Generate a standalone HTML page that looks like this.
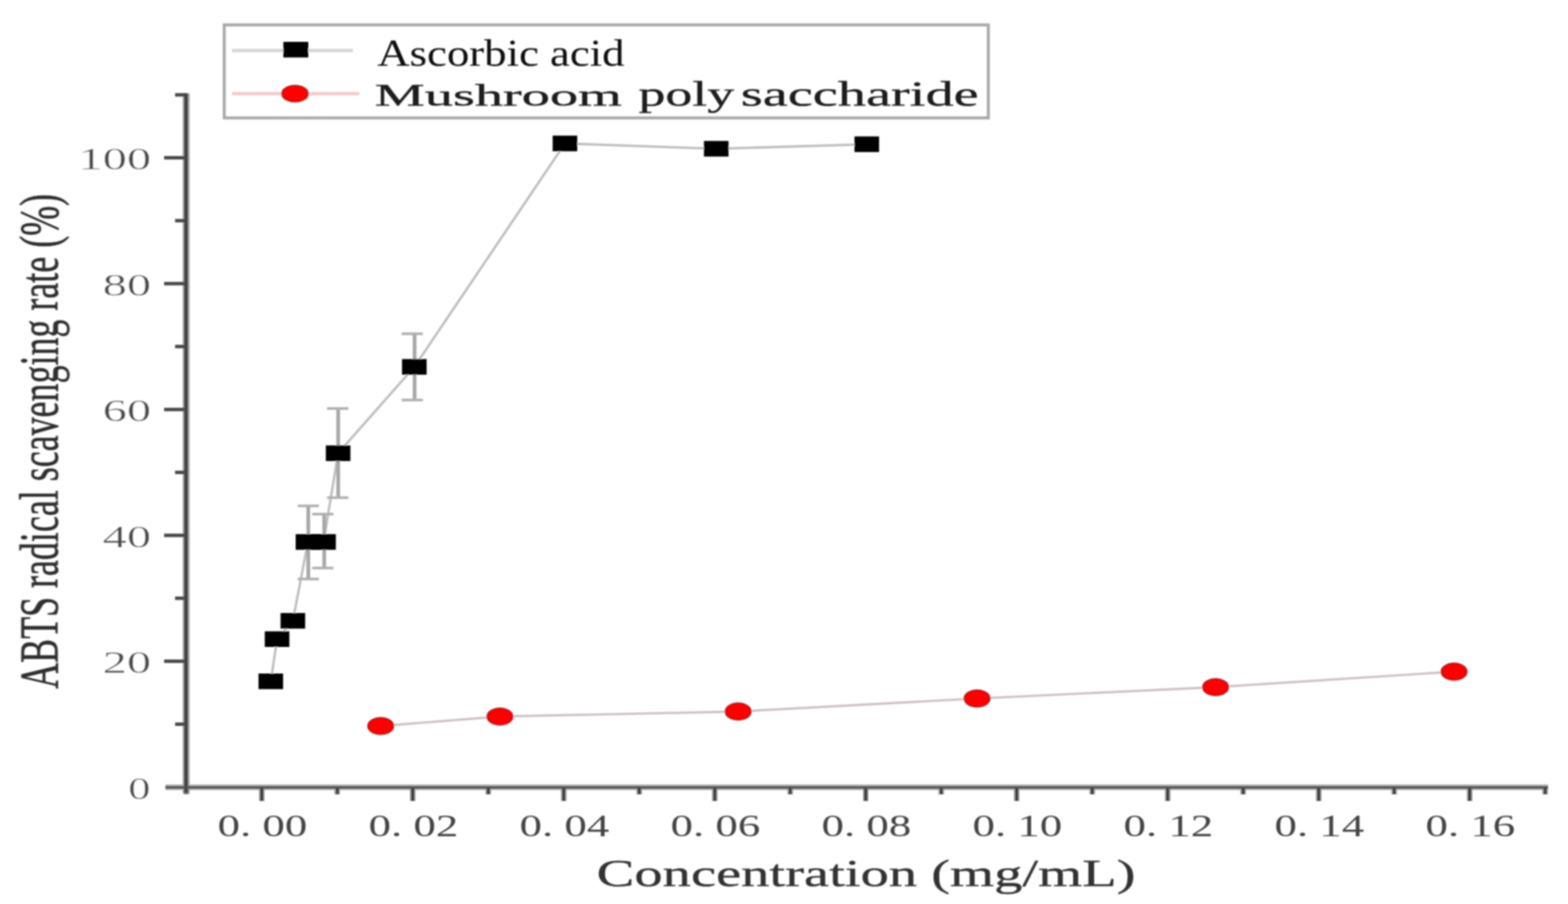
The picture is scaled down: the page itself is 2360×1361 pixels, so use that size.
<!DOCTYPE html>
<html><head><meta charset="utf-8"><title>ABTS radical scavenging rate</title>
<style>
html,body{margin:0;padding:0;background:#fff;}
svg{display:block;}
text{font-family:"Liberation Serif",serif;fill:#2e2e2e;}
.thin{stroke:#fff;stroke-width:0.5px;}
.med{stroke:#3a3a3a;stroke-width:0.45px;fill:#333 !important;}
.lab{fill:#444 !important;}
.ylab{fill:#4a4a4a !important;stroke:#fff;stroke-width:0.45px;}
.med3{stroke:#2a2a2a;stroke-width:0.5px;}
</style></head>
<body>
<svg width="2360" height="1361" viewBox="0 0 2360 1361">
<defs><filter id="bl" x="-2%" y="-2%" width="104%" height="104%"><feGaussianBlur stdDeviation="1.25"/></filter></defs>
<rect width="2360" height="1361" fill="#fff"/>
<g filter="url(#bl)">
<rect x="274.9" y="140.5" width="10.6" height="1053.5" fill="#a8a8a8"/>
<rect x="249" y="1181.2" width="2081" height="8.2" fill="#a6a6a6"/>
<rect x="276.4" y="1187" width="8" height="9" fill="#8c8c8c"/>
<rect x="390.0" y="1187" width="8" height="19" fill="#8c8c8c"/>
<rect x="503.6" y="1187" width="8" height="9" fill="#8c8c8c"/>
<rect x="617.2" y="1187" width="8" height="19" fill="#8c8c8c"/>
<rect x="730.9" y="1187" width="8" height="9" fill="#8c8c8c"/>
<rect x="844.5" y="1187" width="8" height="19" fill="#8c8c8c"/>
<rect x="958.1" y="1187" width="8" height="9" fill="#8c8c8c"/>
<rect x="1071.8" y="1187" width="8" height="19" fill="#8c8c8c"/>
<rect x="1185.4" y="1187" width="8" height="9" fill="#8c8c8c"/>
<rect x="1299.0" y="1187" width="8" height="19" fill="#8c8c8c"/>
<rect x="1412.6" y="1187" width="8" height="9" fill="#8c8c8c"/>
<rect x="1526.2" y="1187" width="8" height="19" fill="#8c8c8c"/>
<rect x="1639.9" y="1187" width="8" height="9" fill="#8c8c8c"/>
<rect x="1753.5" y="1187" width="8" height="19" fill="#8c8c8c"/>
<rect x="1867.1" y="1187" width="8" height="9" fill="#8c8c8c"/>
<rect x="1980.8" y="1187" width="8" height="19" fill="#8c8c8c"/>
<rect x="2094.4" y="1187" width="8" height="9" fill="#8c8c8c"/>
<rect x="2208.0" y="1187" width="8" height="19" fill="#8c8c8c"/>
<rect x="2321.6" y="1187" width="8" height="9" fill="#8c8c8c"/>
<rect x="277" y="140.5" width="6" height="1053.5" fill="#454545"/>
<rect x="249" y="1183.8" width="2081" height="3.4" fill="#4e4e4e"/>
<rect x="263.5" y="1087.7" width="16.5" height="5.2" fill="#4a4a4a"/>
<rect x="247" y="992.9" width="33.0" height="5.2" fill="#4a4a4a"/>
<rect x="263.5" y="898.1" width="16.5" height="5.2" fill="#4a4a4a"/>
<rect x="247" y="803.4" width="33.0" height="5.2" fill="#4a4a4a"/>
<rect x="263.5" y="708.6" width="16.5" height="5.2" fill="#4a4a4a"/>
<rect x="247" y="613.9" width="33.0" height="5.2" fill="#4a4a4a"/>
<rect x="263.5" y="519.1" width="16.5" height="5.2" fill="#4a4a4a"/>
<rect x="247" y="424.4" width="33.0" height="5.2" fill="#4a4a4a"/>
<rect x="263.5" y="329.6" width="16.5" height="5.2" fill="#4a4a4a"/>
<rect x="247" y="234.9" width="33.0" height="5.2" fill="#4a4a4a"/>
<rect x="263.5" y="140.2" width="16.5" height="5.2" fill="#4a4a4a"/>
<rect x="392.4" y="1187" width="3.2" height="18.5" fill="#222"/>
<rect x="506.0" y="1187" width="3.2" height="8.5" fill="#222"/>
<rect x="619.6" y="1187" width="3.2" height="18.5" fill="#222"/>
<rect x="733.3" y="1187" width="3.2" height="8.5" fill="#222"/>
<rect x="846.9" y="1187" width="3.2" height="18.5" fill="#222"/>
<rect x="960.5" y="1187" width="3.2" height="8.5" fill="#222"/>
<rect x="1074.2" y="1187" width="3.2" height="18.5" fill="#222"/>
<rect x="1187.8" y="1187" width="3.2" height="8.5" fill="#222"/>
<rect x="1301.4" y="1187" width="3.2" height="18.5" fill="#222"/>
<rect x="1415.0" y="1187" width="3.2" height="8.5" fill="#222"/>
<rect x="1528.7" y="1187" width="3.2" height="18.5" fill="#222"/>
<rect x="1642.3" y="1187" width="3.2" height="8.5" fill="#222"/>
<rect x="1755.9" y="1187" width="3.2" height="18.5" fill="#222"/>
<rect x="1869.5" y="1187" width="3.2" height="8.5" fill="#222"/>
<rect x="1983.2" y="1187" width="3.2" height="18.5" fill="#222"/>
<rect x="2096.8" y="1187" width="3.2" height="8.5" fill="#222"/>
<rect x="2210.4" y="1187" width="3.2" height="18.5" fill="#222"/>
<rect x="2324.0" y="1187" width="3.2" height="8.5" fill="#222"/>
<text class="ylab" x="193" y="1202.5" font-size="46" textLength="33.5" lengthAdjust="spacingAndGlyphs">0</text>
<text class="ylab" x="154.5" y="1013.0" font-size="46" textLength="73.0" lengthAdjust="spacingAndGlyphs">20</text>
<text class="ylab" x="154.5" y="823.5" font-size="46" textLength="73.0" lengthAdjust="spacingAndGlyphs">40</text>
<text class="ylab" x="154.5" y="634.0" font-size="46" textLength="73.0" lengthAdjust="spacingAndGlyphs">60</text>
<text class="ylab" x="154.5" y="444.5" font-size="46" textLength="73.0" lengthAdjust="spacingAndGlyphs">80</text>
<text class="ylab" x="118" y="255.0" font-size="46" textLength="109.5" lengthAdjust="spacingAndGlyphs">100</text>
<text class="lab" x="327.5" y="1258.5" font-size="46" textLength="135" lengthAdjust="spacingAndGlyphs">0. 00</text>
<text class="lab" x="554.8" y="1258.5" font-size="46" textLength="135" lengthAdjust="spacingAndGlyphs">0. 02</text>
<text class="lab" x="782.0" y="1258.5" font-size="46" textLength="135" lengthAdjust="spacingAndGlyphs">0. 04</text>
<text class="lab" x="1009.2" y="1258.5" font-size="46" textLength="135" lengthAdjust="spacingAndGlyphs">0. 06</text>
<text class="lab" x="1236.5" y="1258.5" font-size="46" textLength="135" lengthAdjust="spacingAndGlyphs">0. 08</text>
<text class="lab" x="1463.8" y="1258.5" font-size="46" textLength="135" lengthAdjust="spacingAndGlyphs">0. 10</text>
<text class="lab" x="1691.0" y="1258.5" font-size="46" textLength="135" lengthAdjust="spacingAndGlyphs">0. 12</text>
<text class="lab" x="1918.2" y="1258.5" font-size="46" textLength="135" lengthAdjust="spacingAndGlyphs">0. 14</text>
<text class="lab" x="2145.5" y="1258.5" font-size="46" textLength="135" lengthAdjust="spacingAndGlyphs">0. 16</text>
<text class="med" x="898" y="1334" font-size="56" textLength="811" lengthAdjust="spacingAndGlyphs">Concentration (mg/mL)</text>
<text class="med3" transform="translate(86 1037) scale(1.5 1) rotate(-90)" x="0" y="0" font-size="55.4" textLength="745" lengthAdjust="spacingAndGlyphs">ABTS radical scavenging rate (%)</text>
<rect x="337.5" y="37.5" width="1150" height="140" fill="none" stroke="#a9a9a9" stroke-width="4.5"/>
<line x1="349" y1="76" x2="531" y2="76" stroke="#d6d6d6" stroke-width="5"/>
<rect x="426.5" y="63" width="37.5" height="23.5" fill="#000"/>
<line x1="349" y1="141" x2="541" y2="141" stroke="#f2caca" stroke-width="5"/>
<ellipse cx="444" cy="141" rx="19.5" ry="12" fill="#ff0404" stroke="#c41212" stroke-width="2.6"/>
<text style="fill:#0a0a0a" x="568" y="99" font-size="58" textLength="372" lengthAdjust="spacingAndGlyphs">Ascorbic acid</text>
<text style="fill:#1a1a1a;stroke:#222;stroke-width:0.45px" x="564" y="159.3" font-size="46" textLength="372" lengthAdjust="spacingAndGlyphs">Mushroom</text>
<text style="fill:#1a1a1a;stroke:#222;stroke-width:0.45px" y="159.3" font-size="53" lengthAdjust="spacingAndGlyphs"><tspan x="961" textLength="144" lengthAdjust="spacingAndGlyphs">poly</tspan><tspan x="1115" textLength="358" lengthAdjust="spacingAndGlyphs">saccharide</tspan></text>
<polyline points="407.6,1025.7 417,962.2 440.8,934.6 463.5,816 487,816 508.9,682.4 623.6,552.4 850.3,216 1078,224 1304.6,217.2" fill="none" stroke="#bdbdbd" stroke-width="3.6"/>
<polyline points="573,1093 752.4,1078.8 1111,1071.2 1470.6,1051.6 1829.6,1034.5 2188.5,1011.2" fill="none" stroke="#cfbfc1" stroke-width="3.4"/>
<line x1="464" y1="761.6" x2="464" y2="871.7" stroke="#a6a6a6" stroke-width="5.5"/>
<line x1="448" y1="761.6" x2="480" y2="761.6" stroke="#b0b0b0" stroke-width="4"/>
<line x1="448" y1="871.7" x2="480" y2="871.7" stroke="#b0b0b0" stroke-width="4"/>
<line x1="488" y1="774" x2="488" y2="855.2" stroke="#a6a6a6" stroke-width="5.5"/>
<line x1="470" y1="774" x2="502" y2="774" stroke="#b0b0b0" stroke-width="4"/>
<line x1="470" y1="855.2" x2="502" y2="855.2" stroke="#b0b0b0" stroke-width="4"/>
<line x1="509" y1="614.9" x2="509" y2="749.3" stroke="#a6a6a6" stroke-width="5.5"/>
<line x1="492.3" y1="614.9" x2="524.3" y2="614.9" stroke="#b0b0b0" stroke-width="4"/>
<line x1="492.3" y1="749.3" x2="524.3" y2="749.3" stroke="#b0b0b0" stroke-width="4"/>
<line x1="624" y1="502.5" x2="624" y2="602.3" stroke="#a6a6a6" stroke-width="5.5"/>
<line x1="604.5" y1="502.5" x2="636.5" y2="502.5" stroke="#b0b0b0" stroke-width="4"/>
<line x1="604.5" y1="602.3" x2="636.5" y2="602.3" stroke="#b0b0b0" stroke-width="4"/>
<rect x="389.1" y="1014.0" width="37" height="23.5" fill="#000"/>
<rect x="398.5" y="950.5" width="37" height="23.5" fill="#000"/>
<rect x="422.3" y="922.9" width="37" height="23.5" fill="#000"/>
<rect x="445.0" y="804.2" width="37" height="23.5" fill="#000"/>
<rect x="468.5" y="804.2" width="37" height="23.5" fill="#000"/>
<rect x="490.4" y="670.6" width="37" height="23.5" fill="#000"/>
<rect x="605.1" y="540.6" width="37" height="23.5" fill="#000"/>
<rect x="831.8" y="204.2" width="37" height="23.5" fill="#000"/>
<rect x="1059.5" y="212.2" width="37" height="23.5" fill="#000"/>
<rect x="1286.1" y="205.4" width="37" height="23.5" fill="#000"/>
<ellipse cx="573" cy="1093" rx="19" ry="12.3" fill="#ff0404" stroke="#c41212" stroke-width="2.6"/>
<ellipse cx="752.4" cy="1078.8" rx="19" ry="12.3" fill="#ff0404" stroke="#c41212" stroke-width="2.6"/>
<ellipse cx="1111" cy="1071.2" rx="19" ry="12.3" fill="#ff0404" stroke="#c41212" stroke-width="2.6"/>
<ellipse cx="1470.6" cy="1051.6" rx="19" ry="12.3" fill="#ff0404" stroke="#c41212" stroke-width="2.6"/>
<ellipse cx="1829.6" cy="1034.5" rx="19" ry="12.3" fill="#ff0404" stroke="#c41212" stroke-width="2.6"/>
<ellipse cx="2188.5" cy="1011.2" rx="19" ry="12.3" fill="#ff0404" stroke="#c41212" stroke-width="2.6"/>
</g>
</svg>
</body></html>
